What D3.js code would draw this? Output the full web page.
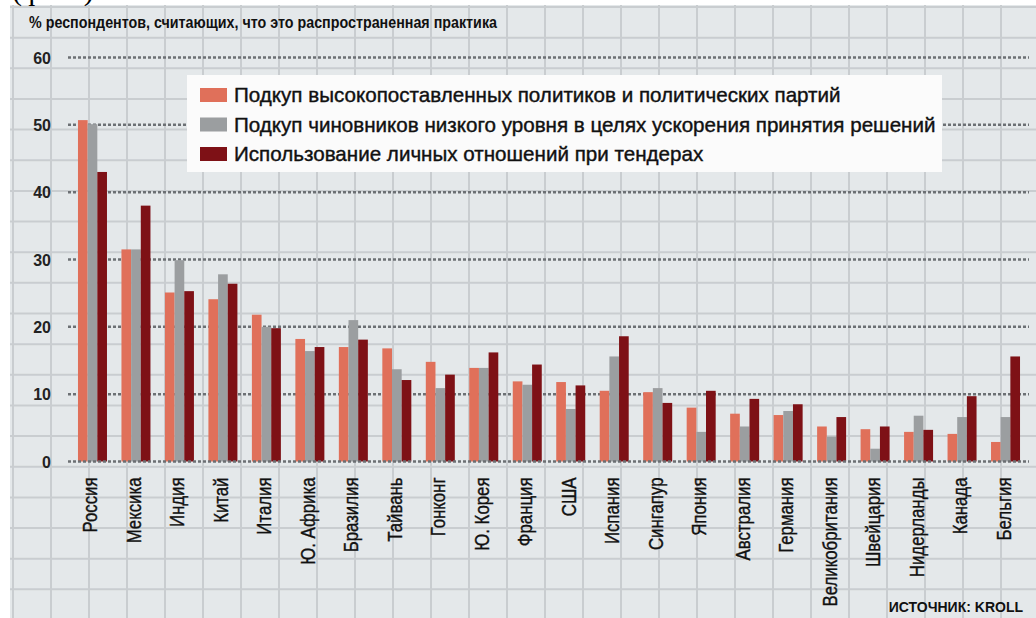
<!DOCTYPE html>
<html><head><meta charset="utf-8">
<script src="https://cdn.jsdelivr.net/npm/d3@7"></script>
<style>
html,body{margin:0;padding:0;background:#fff;}
svg{display:block;}
</style></head>
<body>
<svg id="chart" width="1036" height="618"></svg>
<script>
const categories = ["Россия","Мексика","Индия","Китай","Италия","Ю. Африка","Бразилия","Тайвань","Гонконг","Ю. Корея","Франция","США","Испания","Сингапур","Япония","Австралия","Германия","Великобритания","Швейцария","Нидерланды","Канада","Бельгия"];
const seriesNames = ["Подкуп высокопоставленных политиков и политических партий","Подкуп чиновников низкого уровня в целях ускорения принятия решений","Использование личных отношений при тендерах"];
const highLevel = [50.7,31.5,25.1,24.1,21.8,18.2,17.0,16.8,14.8,13.9,11.9,11.8,10.5,10.3,8.0,7.1,6.9,5.2,4.8,4.4,4.1,2.9];
const lowLevel  = [50.1,31.5,29.9,27.8,20.0,16.4,21.0,13.7,10.9,13.9,11.4,7.8,15.6,10.9,4.4,5.2,7.5,3.7,1.9,6.8,6.6,6.6];
const tenders   = [43.0,38.0,25.3,26.4,19.8,17.0,18.1,12.1,12.9,16.2,14.4,11.3,18.6,8.7,10.5,9.3,8.5,6.6,5.2,4.7,9.7,15.6];
const yTicks = [0,10,20,30,40,50,60];
const titleText = "% респондентов, считающих, что это распространенная практика";
const sourceText = "ИСТОЧНИК: KROLL";
const topText = "(фото)";

const colors = ["#e0705a","#9b9ea0","#7e1116"];
const series = [highLevel, lowLevel, tenders];

const svg = d3.select("#chart");
const W = 1036, H = 618;
const FONT = "Liberation Sans, Arial, sans-serif";

// panel background
svg.append("rect").attr("x",10).attr("y",5).attr("width",W-10).attr("height",H-5).attr("fill","#e4e8ea");

// graph-paper grid
const gGrid = svg.append("g").attr("stroke","#c9cdd0").attr("stroke-width",2);
d3.range(13, W, 38).forEach(x=>{
  gGrid.append("line").attr("x1",x).attr("x2",x).attr("y1",5).attr("y2",H);
});
d3.range(7, H, 30.65).forEach(y=>{
  gGrid.append("line").attr("x1",10).attr("x2",W).attr("y1",y).attr("y2",y);
});

// fragment of caption above the chart (cropped in the original)
svg.append("text").attr("x",12).attr("y",0).attr("font-family","Liberation Serif, serif")
  .attr("font-size",30).attr("fill","#000").text(topText);

const y = d3.scaleLinear().domain([0,60]).range([461.5,57.5]);
const x0 = d3.scaleBand().domain(categories).range([63.5,1034.5]).paddingInner(0.333).paddingOuter(0.333);
const x1 = d3.scaleBand().domain([0,1,2]).range([0,x0.bandwidth()]);

// y axis labels
const yAxis = d3.axisLeft(y).tickValues(yTicks).tickSize(0).tickPadding(0).tickFormat(d3.format("d"));
const gy = svg.append("g").attr("transform","translate(51,0)").call(yAxis);
gy.select(".domain").remove();
gy.selectAll("text").attr("font-family",FONT).attr("font-weight","bold")
  .attr("font-size",16).attr("fill","#222").attr("dy","0.36em").attr("x",0);

// dotted gridlines
const dotted = svg.append("g");
yTicks.filter(d=>d>0).forEach(d=>{
  dotted.append("line").attr("x1",68).attr("x2",1029).attr("y1",y(d)).attr("y2",y(d))
   .attr("stroke","#6c7074").attr("stroke-width",2.5).attr("stroke-dasharray","3,2");
});

// legend box
const legend = svg.append("g");
legend.append("rect").attr("x",187).attr("y",75).attr("width",755).attr("height",97).attr("fill","#fbfbfb");
seriesNames.forEach((s,i)=>{
  legend.append("rect").attr("x",200).attr("y",88+i*29.5).attr("width",27).attr("height",14).attr("fill",colors[i]);
  legend.append("text").attr("x",234).attr("y",102+i*29.5).attr("font-family",FONT)
    .attr("font-size",20.6).attr("fill","#111").attr("stroke","#111").attr("stroke-width",0.4).text(s);
});

// bars
const gBars = svg.append("g");
categories.forEach((c,i)=>{
  series.forEach((arr,k)=>{
    gBars.append("rect").attr("x",x0(c)+x1(k)).attr("width",x1.bandwidth())
      .attr("y",y(arr[i])).attr("height",y(0)-y(arr[i])).attr("fill",colors[k]);
  });
});

// zero line
svg.append("line").attr("x1",68).attr("x2",1029).attr("y1",y(0)).attr("y2",y(0))
  .attr("stroke","#6c7074").attr("stroke-width",2.5).attr("stroke-dasharray","3,2");

// x labels (condensed vertical text)
const xAxis = d3.axisBottom(x0).tickSize(0);
const gx = svg.append("g").attr("transform",`translate(0,${y(0)})`).call(xAxis);
gx.select(".domain").remove();
gx.selectAll("text").attr("font-family",FONT).attr("font-size",21)
  .attr("fill","#111").attr("stroke","#111").attr("stroke-width",0.4)
  .attr("text-anchor","end").attr("dy",null).attr("y",0).attr("x",0)
  .attr("transform","translate(5,16) rotate(-90) scale(0.8,1)");

// title
svg.append("text").attr("x",29).attr("y",28).attr("font-family",FONT)
  .attr("font-weight","bold").attr("font-size",16).attr("fill","#111")
  .attr("textLength",468).attr("lengthAdjust","spacingAndGlyphs").text(titleText);

// source
svg.append("text").attr("x",1023).attr("y",612).attr("text-anchor","end").attr("font-family",FONT)
  .attr("font-weight","bold").attr("font-size",14).attr("fill","#111").text(sourceText);
</script>
</body></html>
